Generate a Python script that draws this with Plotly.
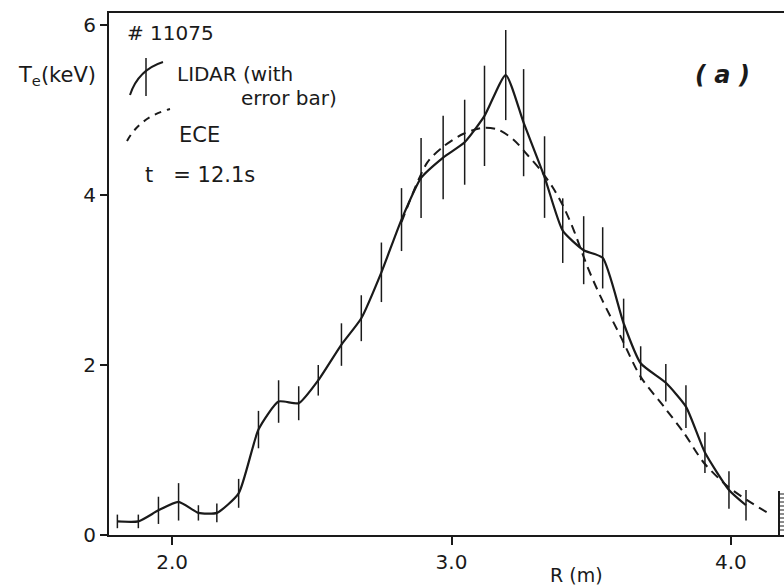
import plotly.graph_objects as go

# ---- data ----
lidar_R = [1.804, 1.879, 1.951, 2.023, 2.094, 2.160, 2.238, 2.309, 2.381, 2.453,
           2.523, 2.606, 2.677, 2.749, 2.821, 2.891, 2.970, 3.047, 3.118, 3.194,
           3.258, 3.333, 3.398, 3.473, 3.541, 3.616, 3.677, 3.767, 3.839, 3.907,
           3.993, 4.054]
lidar_Te = [0.16, 0.16, 0.29, 0.39, 0.26, 0.26, 0.49, 1.24, 1.57, 1.55,
            1.82, 2.24, 2.55, 3.09, 3.71, 4.20, 4.44, 4.62, 4.93, 5.41,
            4.85, 4.21, 3.58, 3.35, 3.26, 2.49, 2.02, 1.79, 1.51, 0.97,
            0.53, 0.35]
lidar_err = [0.08, 0.08, 0.16, 0.22, 0.09, 0.11, 0.17, 0.22, 0.25, 0.20,
             0.18, 0.25, 0.27, 0.35, 0.37, 0.47, 0.49, 0.50, 0.59, 0.53,
             0.63, 0.48, 0.38, 0.40, 0.36, 0.29, 0.20, 0.22, 0.25, 0.24,
             0.22, 0.18]

ece_R = [2.821, 2.913, 2.971, 3.043, 3.115, 3.165, 3.222, 3.272, 3.319, 3.362,
         3.401, 3.437, 3.487, 3.534, 3.606, 3.677, 3.760, 3.832, 3.903, 3.989,
         4.072, 4.143]
ece_Te = [3.68, 4.38, 4.57, 4.72, 4.79, 4.77, 4.65, 4.47, 4.29, 4.09,
          3.86, 3.59, 3.15, 2.80, 2.33, 1.86, 1.51, 1.20, 0.85, 0.57,
          0.38, 0.24]

x_ticks = [2.0, 3.0, 4.0]
x_tick_text = ["2.0", "3.0", "4.0"]
y_ticks = [0, 2, 4, 6]
y_tick_text = ["0", "2", "4", "6"]

INK = "#1a1a1a"
FONT = "DejaVu Sans, Liberation Sans, sans-serif"

W, H = 784, 586
ML, MR, MT, MB = 109, 0, 13, 51
PW, PH = W - ML - MR, H - MT - MB


def px(x):
    return (x - ML) / PW


def py(y):
    return (H - MB - y) / PH


fig = go.Figure()

fig.add_trace(go.Scatter(
    x=ece_R, y=ece_Te, mode="lines",
    line=dict(color=INK, width=2, dash="9px,6px", shape="spline", smoothing=0.8),
    hoverinfo="skip", showlegend=False))

fig.add_trace(go.Scatter(
    x=lidar_R, y=lidar_Te, mode="lines",
    line=dict(color=INK, width=2.2, shape="spline", smoothing=0.55),
    error_y=dict(type="data", array=lidar_err, visible=True, color=INK,
                 thickness=1.5, width=0),
    hoverinfo="skip", showlegend=False))

shapes = []
# legend glyph: solid arc with error bar
shapes.append(dict(type="path", xref="paper", yref="paper",
                   path=f"M {px(130)},{py(95)} Q {px(138)},{py(70)} {px(163)},{py(62)}",
                   line=dict(color=INK, width=2)))
shapes.append(dict(type="line", xref="paper", yref="paper",
                   x0=px(146), x1=px(146), y0=py(58), y1=py(96),
                   line=dict(color=INK, width=1.5)))
# legend glyph: dashed arc
shapes.append(dict(type="path", xref="paper", yref="paper",
                   path=f"M {px(127)},{py(141)} Q {px(140)},{py(117)} {px(170)},{py(109)}",
                   line=dict(color=INK, width=2, dash="7px,6px")))
# wall (hatched) at right edge
shapes.append(dict(type="line", xref="paper", yref="paper",
                   x0=px(779), x1=px(779), y0=py(535), y1=py(491),
                   line=dict(color=INK, width=2)))
for yy in range(494, 534, 4):
    shapes.append(dict(type="line", xref="paper", yref="paper",
                       x0=px(779), x1=px(784), y0=py(yy), y1=py(yy),
                       line=dict(color=INK, width=1)))

ann = []


def txt(t, x, y, size=21, xanchor="left", **kw):
    ann.append(dict(text=t, x=px(x), y=py(y), xref="paper", yref="paper",
                    showarrow=False, xanchor=xanchor, yanchor="middle",
                    font=dict(family=FONT, size=size, color=INK), **kw))


txt("# 11075", 125, 33, size=20)
txt("LIDAR (with", 175, 74, size=20)
txt("error bar)", 239, 98, size=20)
txt("ECE", 177, 135, size=21)
txt("t   = 12.1s", 143, 175, size=21)
txt("<i><b>( a )</b></i>", 722, 75, size=24, xanchor="center")
txt("T<sub>e</sub>(keV)", 57, 76, size=21, xanchor="center")
txt("R (m)", 576, 575, size=19, xanchor="center")

fig.update_layout(
    width=W, height=H,
    margin=dict(l=ML, r=MR, t=MT, b=MB),
    paper_bgcolor="white", plot_bgcolor="white",
    font=dict(family=FONT, color=INK),
    shapes=shapes, annotations=ann,
    xaxis=dict(range=[1.774, 4.19], showgrid=False, zeroline=False,
               showline=True, linecolor=INK, linewidth=2, mirror=True,
               ticks="outside", ticklen=8, tickwidth=1.5, tickcolor=INK,
               tickvals=x_ticks, ticktext=x_tick_text,
               tickfont=dict(size=20, family=FONT, color=INK)),
    yaxis=dict(range=[0, 6.14], showgrid=False, zeroline=False,
               showline=True, linecolor=INK, linewidth=2,
               ticks="outside", ticklen=7, tickwidth=1.5, tickcolor=INK,
               tickvals=y_ticks, ticktext=y_tick_text,
               tickfont=dict(size=20, family=FONT, color=INK)),
)

fig.write_html("out.html")
